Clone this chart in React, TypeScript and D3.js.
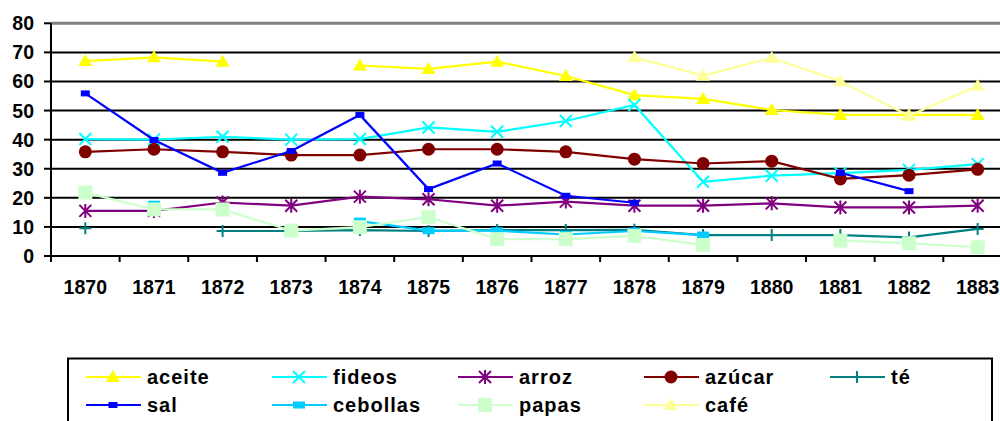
import React from "react";
import * as d3 from "d3";

const years = ["1870","1871","1872","1873","1874","1875","1876","1877","1878","1879","1880","1881","1882","1883"];
const yTicks = [0,10,20,30,40,50,60,70,80];

type V = number | null;
const aceite: V[] = [67, 68.3, 66.8, null, 65.5, 64.3, 66.8, 61.9, 55.3, 54, 50.2, 48.5, 48.5, 48.5];
const fideos: V[] = [40.2, 40, 41, 40, 40.2, 44.2, 42.7, 46.4, 51.9, 25.5, 27.6, 28.5, 29.6, 31.6];
const arroz: V[] = [15.5, 15.5, 18.4, 17.3, 20.4, 19.5, 17.3, 18.7, 17.3, 17.3, 18.1, 16.7, 16.7, 17.3];
const azucar: V[] = [35.8, 36.7, 35.8, 34.7, 34.7, 36.7, 36.7, 35.8, 33.3, 31.8, 32.6, 26.5, 27.8, 29.8];
const te: V[] = [9.5, null, 8.6, 8.6, 8.9, 8.6, 8.9, 8.9, 9, 7.2, 7.2, 7.2, 6.4, 9.3];
const sal: V[] = [55.9, 39.9, 28.6, 36.1, 48.5, 23, 31.8, 20.7, 18.3, null, null, 28.6, 22.3, null];
const cebollas: V[] = [null, 17.8, null, null, 12, 8.7, 8.7, 7.4, 8.6, 7.2, null, null, null, null];
const papas: V[] = [21.8, 16, 16, 8.7, 9.9, 13.4, 5.8, 5.8, 6.9, 3.8, null, 5.3, 4.4, 3.0];
const cafe: V[] = [null, null, null, null, null, null, null, null, 68.3, 62, 68.1, 60.1, 48.2, 58.5];

type Marker = "triangle" | "x" | "star" | "circle" | "plus" | "smallsq" | "rect" | "bigsq";
interface Series { name: string; values: V[]; color: string; marker: Marker; }

const series: Series[] = [
  { name: "aceite", values: aceite, color: "#FFFF00", marker: "triangle" },
  { name: "fideos", values: fideos, color: "#00FFFF", marker: "x" },
  { name: "arroz", values: arroz, color: "#800080", marker: "star" },
  { name: "azúcar", values: azucar, color: "#800000", marker: "circle" },
  { name: "té", values: te, color: "#008080", marker: "plus" },
  { name: "sal", values: sal, color: "#0000FF", marker: "smallsq" },
  { name: "cebollas", values: cebollas, color: "#00CCFF", marker: "rect" },
  { name: "papas", values: papas, color: "#CCFFCC", marker: "bigsq" },
  { name: "café", values: cafe, color: "#FFFF99", marker: "triangle" },
];

const FONT = "'Liberation Sans', Arial, sans-serif";

function MarkerShape({ m, x, y, color }: { m: Marker; x: number; y: number; color: string }) {
  switch (m) {
    case "triangle":
      return <path d={`M${x},${y - 7}L${x + 7},${y + 5}L${x - 7},${y + 5}Z`} fill={color} />;
    case "circle":
      return <circle cx={x} cy={y} r={6.5} fill={color} />;
    case "x":
      return <path d={`M${x - 6},${y - 6}L${x + 6},${y + 6}M${x - 6},${y + 6}L${x + 6},${y - 6}`} stroke={color} strokeWidth={2} fill="none" />;
    case "star":
      return <path d={`M${x - 6},${y - 6}L${x + 6},${y + 6}M${x - 6},${y + 6}L${x + 6},${y - 6}M${x},${y - 7}L${x},${y + 7}`} stroke={color} strokeWidth={2} fill="none" />;
    case "plus":
      return <path d={`M${x - 6},${y}L${x + 6},${y}M${x},${y - 6}L${x},${y + 6}`} stroke={color} strokeWidth={2} fill="none" />;
    case "smallsq":
      return <rect x={x - 4.5} y={y - 3} width={9} height={6} fill={color} />;
    case "rect":
      return <rect x={x - 6} y={y - 3.5} width={12} height={7} fill={color} />;
    case "bigsq":
      return <rect x={x - 7} y={y - 7} width={14} height={14} fill={color} />;
  }
  return null;
}

export default function App() {
  const W = 1000, H = 421;
  const left = 51, top = 23.3, bottom = 256, band = 68.64;
  const x = d3.scaleBand<string>().domain(years).range([left, left + band * years.length]).padding(0);
  const y = d3.scaleLinear().domain([0, 80]).range([bottom, top]);
  const cx = (yr: string) => (x(yr) as number) + x.bandwidth() / 2;

  const line = d3.line<V>()
    .defined((d) => d !== null)
    .x((_, i) => cx(years[i]))
    .y((d) => y(d as number));

  const right = left + band * years.length;
  const legendCols = [86, 272, 458, 644, 830];
  const legendRows = [377, 405];

  return (
    <svg width={W} height={H} style={{ position: "absolute", left: 0, top: 0, background: "#fff" }} fontFamily={FONT}>
      <rect width={W} height={H} fill="#fff" />
      {yTicks.filter((t) => t > 0 && t < 80).map((t) => (
        <line key={t} x1={left} x2={right} y1={y(t)} y2={y(t)} stroke="#000" strokeWidth={2} />
      ))}
      <line x1={left} x2={right} y1={y(80)} y2={y(80)} stroke="#808080" strokeWidth={3} />
      <line x1={left} x2={left} y1={y(80)} y2={bottom + 1} stroke="#000" strokeWidth={2} />
      <line x1={left - 1} x2={right} y1={bottom} y2={bottom} stroke="#000" strokeWidth={2} />
      {yTicks.map((t) => (
        <g key={t}>
          <line x1={left - 7} x2={left} y1={y(t)} y2={y(t)} stroke="#000" strokeWidth={2} />
          <text x={34} y={y(t)} dy="0.36em" textAnchor="end" fontSize={19.5} fontWeight="bold">{t}</text>
        </g>
      ))}
      {years.map((yr) => (
        <g key={yr}>
          <line x1={x(yr) as number} x2={x(yr) as number} y1={bottom} y2={bottom + 6} stroke="#000" strokeWidth={2} />
          <text x={cx(yr)} y={294} textAnchor="middle" fontSize={19.5} fontWeight="bold">{yr}</text>
        </g>
      ))}
      {series.map((s) => (
        <g key={s.name}>
          <path d={line(s.values) || ""} fill="none" stroke={s.color} strokeWidth={2.2} />
          {s.values.map((v, i) =>
            v === null ? null : <MarkerShape key={i} m={s.marker} x={cx(years[i])} y={y(v)} color={s.color} />
          )}
        </g>
      ))}
      <rect x={68} y={358.5} width={924} height={90} fill="#fff" stroke="#000" strokeWidth={2} />
      {series.map((s, i) => {
        const col = legendCols[i % 5];
        const row = legendRows[Math.floor(i / 5)];
        return (
          <g key={s.name}>
            <line x1={col} x2={col + 55} y1={row} y2={row} stroke={s.color} strokeWidth={2} />
            <MarkerShape m={s.marker} x={col + 27} y={row} color={s.color} />
            <text x={col + 61} y={row} dy="0.36em" fontSize={20} fontWeight="bold" letterSpacing={1}>{s.name}</text>
          </g>
        );
      })}
    </svg>
  );
}
